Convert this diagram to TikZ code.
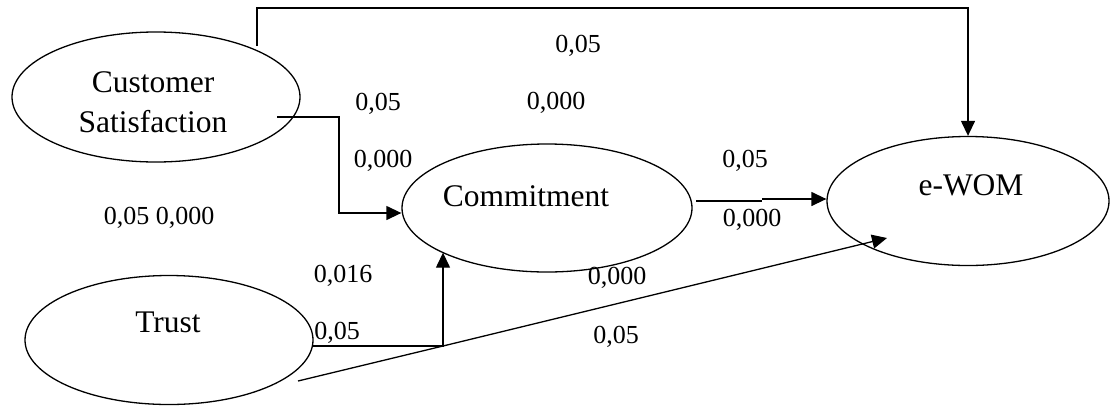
\documentclass[tikz,border=0pt]{standalone}
\usepackage{fontspec}
\setmainfont{Liberation Serif}
\usetikzlibrary{shapes.geometric,arrows.meta,calc}
\begin{document}
\begin{tikzpicture}[x=1pt,y=-1pt,
  ell/.style={draw,ellipse,line width=1.3pt,inner sep=0pt},
  nodetext/.style={font=\fontsize{31.5}{40}\selectfont,align=center,inner sep=0pt},
  val/.style={font=\fontsize{26}{30}\selectfont,inner sep=0pt},
  conn/.style={line width=1.3pt},
  arr/.style={conn,-{Triangle[length=15pt,width=14pt]}}]
\useasboundingbox (0,0) rectangle (1110,405);
% ellipses
\node[ell,minimum width=288pt,minimum height=130pt] (cs) at (156,97) {};
\node[ell,minimum width=290pt,minimum height=128pt] (com) at (547,208) {};
\node[ell,minimum width=282pt,minimum height=129pt] (ew) at (968,201) {};
\node[ell,minimum width=288pt,minimum height=129pt] (tr) at (169,340) {};
% node texts
\node[nodetext] (cst) at (153,102) {Customer\\Satisfaction};
\node[nodetext] (comt) at (526,196) {Commitment};
\node[nodetext] (ewt) at (971,185) {e-WOM};
\node[nodetext] (trt) at (168,322) {Trust};
% coordinates
\coordinate (a1) at (257,46);
\coordinate (a2) at (257,8);
\coordinate (b1) at (277,117);
\coordinate (b2) at (339,213);
\coordinate (c1) at (696,201);
\coordinate (c2) at (762,201);
\coordinate (c3) at (762,199);
\coordinate (d1) at (313,346);
\coordinate (d2) at (443,346);
\coordinate (e1) at (298,381);
\coordinate (e2) at (887,238);
% connectors
\draw[arr] (a1) -- (a2) -| (ew.north);
\draw[arr] (b1) -| (b2) -- (b2 -| com.west);
\draw[conn] (c1) -- (c2);
\draw[arr] (c3) -- (c3 -| ew.west);
\draw[arr] (d1) -- (d2) -- (d2 |- com.203);
\draw[arr] (e1) -- (d2) -- (e2);
% values
\node[val] (v1) at (578,46) {0,05};
\node[val] (v2) at (378,104) {0,05};
\node[val] (v3) at (556,103) {0,000};
\node[val] (v4) at (383,161) {0,000};
\node[val] (v5) at (745,161) {0,05};
\node[val] (v6) at (752,220) {0,000};
\node[val] (v7) at (159,218) {0,05 0,000};
\node[val] (v8) at (343,276) {0,016};
\node[val] (v9) at (617,278) {0,000};
\node[val] (v10) at (337,333) {0,05};
\node[val] (v11) at (616,337) {0,05};
\end{tikzpicture}
\end{document}
